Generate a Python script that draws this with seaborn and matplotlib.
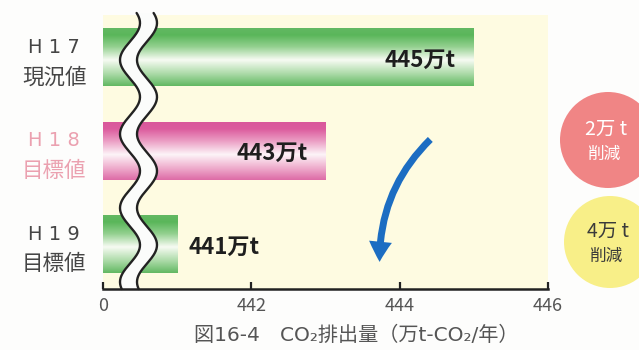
import numpy as np
import pandas as pd
import matplotlib
matplotlib.use("Agg")
import matplotlib.pyplot as plt
import seaborn as sns
from matplotlib.colors import LinearSegmentedColormap
from matplotlib.patches import Circle, FancyArrowPatch, ArrowStyle

# --- data -------------------------------------------------------------
years = ["H17", "H18", "H19"]
year_labels = ["H 1 7", "H 1 8", "H 1 9"]
kinds = ["現況値", "目標値", "目標値"]
emissions = [445, 443, 441]            # 万t-CO2/年
value_labels = ["445万t", "443万t", "441万t"]
axis_ticks = [440, 442, 444, 446]
axis_tick_labels = ["0", "442", "444", "446"]
caption = "図16-4　CO₂排出量（万t-CO₂/年）"

# --- style ------------------------------------------------------------
sns.set_theme(style="white")
plt.rcParams["font.family"] = ["Noto Sans CJK JP", "DejaVu Sans"]

W, H = 639, 350
fig = plt.figure(figsize=(W / 100, H / 100), dpi=100)
fig.patch.set_facecolor("#fdfdfc")

# plot panel (pixel box: x 103..548, y 15..289)
ax = fig.add_axes([103 / W, 1 - 289 / H, 445 / W, 274 / H])
ax.set_facecolor("#fefbe1")

df = pd.DataFrame({"year": years, "value": emissions})
sns.barplot(data=df, x="value", y="year", orient="h", width=0.62,
            color="#66bb66", ax=ax, zorder=2)

xmin, xmax = axis_ticks[0], axis_ticks[-1]
ax.set_xlim(xmin, xmax)
ax.set_ylim(2.48, -0.45)

green = LinearSegmentedColormap.from_list("g", [
    (0.0, "#63b963"), (0.12, "#5ab65a"), (0.32, "#93d08f"),
    (0.55, "#f7fbf3"), (0.8, "#a8d9a4"), (1.0, "#62b862")])
pink = LinearSegmentedColormap.from_list("p", [
    (0.0, "#d9579b"), (0.12, "#dc5c9e"), (0.32, "#eb9cc3"),
    (0.56, "#fdf4f8"), (0.8, "#eeaacb"), (1.0, "#dd6ba6")])
bar_cmaps = [green, pink, green]

grad = np.linspace(0, 1, 256).reshape(-1, 1)
for patch, cmap in zip(ax.patches, bar_cmaps):
    x0 = max(patch.get_x(), xmin)
    x1 = patch.get_x() + patch.get_width()
    y0 = patch.get_y()
    y1 = y0 + patch.get_height()
    patch.set_facecolor("none")
    patch.set_edgecolor("none")
    im = ax.imshow(grad, cmap=cmap, aspect="auto", origin="upper",
                   extent=(x0, x1, y1, y0), zorder=2, interpolation="bilinear")
    im.set_clip_path(patch)

ax.set_xlim(xmin, xmax)
ax.set_ylim(2.48, -0.45)

# value labels: inside the bar when it is long enough, otherwise beside it
for i, (v, lab) in enumerate(zip(emissions, value_labels)):
    inside = (v - xmin) > 2
    ax.annotate(lab, xy=(v, i), xytext=(-13 if inside else 8, -2),
                textcoords="offset points", ha="right" if inside else "left",
                va="center", fontsize=16, fontweight="bold", color="#1e1e1e",
                zorder=5)

# category labels to the left of the panel
label_colors = ["#454545", "#eba1b0", "#454545"]
for i, (yl, kd, c) in enumerate(zip(year_labels, kinds, label_colors)):
    ax.annotate(yl, xy=(-0.11, i), xycoords=("axes fraction", "data"),
                xytext=(0, 7), textcoords="offset points", ha="center",
                va="center", fontsize=14, color=c, family="DejaVu Sans",
                annotation_clip=False)
    ax.annotate(kd, xy=(-0.11, i), xycoords=("axes fraction", "data"),
                xytext=(0, -14.5), textcoords="offset points", ha="center",
                va="center", fontsize=15.5, color=c, annotation_clip=False)

ax.set_yticks([])
ax.set_ylabel("")
ax.set_xlabel("")
ax.set_xticks(axis_ticks, axis_tick_labels)
ax.tick_params(axis="x", direction="in", length=5, width=1.6, color="#222222",
               labelsize=13, labelcolor="#555555", pad=6, bottom=True)
for s in ["top", "right", "left"]:
    ax.spines[s].set_visible(False)
ax.spines["bottom"].set_color("#222222")
ax.spines["bottom"].set_linewidth(1.8)
ax.spines["bottom"].set_zorder(6)

# wavy axis break
py = np.linspace(13, 289, 400)
left_px = 130 + 10 * np.cos(2 * np.pi * (py - 23) / 74)
right_px = left_px + 17
fy = 1 - (py - 15) / 274
fl = (left_px - 103) / 445
fr = (right_px - 103) / 445
ax.fill_betweenx(fy, fl, fr, color="#fbfcfb", transform=ax.transAxes,
                 zorder=4, clip_on=False, lw=0)
ax.plot(fl, fy, color="#222222", lw=1.7, transform=ax.transAxes, zorder=4,
        clip_on=False)
ax.plot(fr, fy, color="#222222", lw=1.7, transform=ax.transAxes, zorder=4,
        clip_on=False)

# downward trend arrow
arrow = FancyArrowPatch(
    posA=(444.44, 0.86), posB=(443.73, 2.22),
    connectionstyle="arc3,rad=0.22",
    arrowstyle=ArrowStyle("simple", head_length=1.45, head_width=1.65,
                          tail_width=0.5),
    mutation_scale=10, color="#1c6dc2", lw=0, zorder=5)
ax.add_patch(arrow)

# overlay in pixel units for the reduction badges and caption
ov = fig.add_axes([0, 0, 1, 1], facecolor="none")
ov.set_xlim(0, W)
ov.set_ylim(H, 0)
ov.axis("off")

badges = [
    dict(cx=608, cy=140, r=48, face="#f08585", text="#ffffff", row=1),
    dict(cx=610, cy=242, r=46, face="#f8ef88", text="#3a3a3a", row=2),
]
for b in badges:
    diff = emissions[0] - emissions[b["row"]]
    ov.add_patch(Circle((b["cx"], b["cy"]), b["r"], color=b["face"], lw=0))
    ov.text(b["cx"] - 2, b["cy"] - 11, f"{diff}万 t", ha="center", va="center",
            fontsize=14, color=b["text"])
    ov.text(b["cx"] - 3, b["cy"] + 14, "削減", ha="center", va="center",
            fontsize=12, color=b["text"])

ov.text(356, 335, caption, ha="center", va="center", fontsize=14.5,
        color="#555555", family=["DejaVu Sans", "Noto Sans CJK JP"])

fig.savefig("out.png", dpi=100, facecolor=fig.get_facecolor())
